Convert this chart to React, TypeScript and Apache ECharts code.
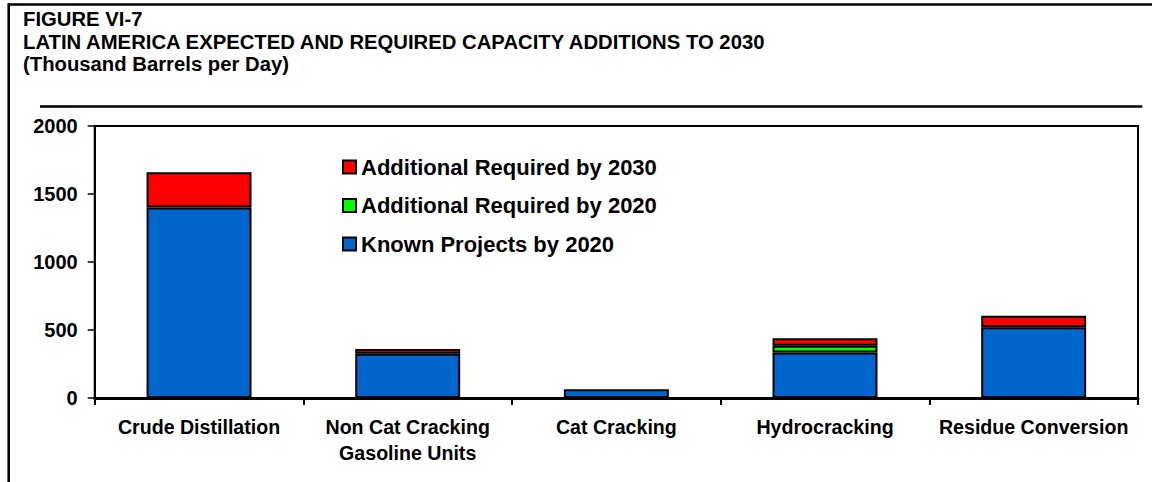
import React, { useEffect, useRef } from "react";
import * as echarts from "echarts";

const categories = [
  "Crude Distillation",
  "Non Cat Cracking\nGasoline Units",
  "Cat Cracking",
  "Hydrocracking",
  "Residue Conversion",
];
const knownProjects2020 = [1400, 325, 65, 335, 520];
const additional2020 = [0, 0, 0, 50, 0];
const additional2030 = [260, 35, 0, 55, 85];
const seriesNames = [
  "Known Projects by 2020",
  "Additional Required by 2020",
  "Additional Required by 2030",
];
const titleLines = [
  "FIGURE VI-7",
  "LATIN AMERICA EXPECTED AND REQUIRED CAPACITY ADDITIONS TO 2030",
  "(Thousand Barrels per Day)",
];

const FONT = "'Liberation Sans', Arial, Helvetica, sans-serif";

export default function App() {
  const ref = useRef<HTMLDivElement>(null);
  useEffect(() => {
    document.body.style.margin = "0";
    const chart = echarts.init(ref.current!, null, { renderer: "svg" });
    const bar = (name: string, data: number[], color: string) => ({
      name,
      type: "bar",
      stack: "total",
      // zero-height segments are left out so that they draw no border
      data: data.map((v) => (v === 0 ? "-" : v)),
      barWidth: "50.3%",
      itemStyle: { color, borderColor: "#000", borderWidth: 2 },
    });
    chart.setOption({
      animation: false,
      backgroundColor: "#fff",
      textStyle: { fontFamily: FONT },
      title: {
        text: titleLines.join("\n"),
        left: 23,
        top: 8,
        padding: 0,
        textStyle: {
          fontFamily: FONT,
          fontSize: 20.3,
          fontWeight: "bold",
          color: "#000",
          lineHeight: 22.5,
        },
      },
      legend: {
        orient: "vertical",
        left: 337,
        top: 151,
        itemWidth: 13,
        itemHeight: 13,
        itemGap: 16.5,
        icon: "rect",
        data: [seriesNames[2], seriesNames[1], seriesNames[0]],
        textStyle: {
          fontFamily: FONT,
          fontSize: 22,
          fontWeight: "bold",
          color: "#000",
          lineHeight: 21.5,
        },
      },
      grid: {
        left: 94.7,
        right: 14,
        top: 126,
        bottom: 84,
        show: true,
        borderColor: "#000",
        borderWidth: 2,
        containLabel: false,
      },
      xAxis: {
        type: "category",
        data: categories,
        axisLine: { lineStyle: { color: "#000", width: 3 } },
        axisTick: { show: true, length: 7, lineStyle: { color: "#000", width: 2 } },
        axisLabel: {
          interval: 0,
          margin: 16,
          fontFamily: FONT,
          fontSize: 19.6,
          fontWeight: "bold",
          color: "#000",
          lineHeight: 26,
        },
      },
      yAxis: {
        type: "value",
        min: 0,
        max: 2000,
        interval: 500,
        splitLine: { show: false },
        axisLine: { show: true, lineStyle: { color: "#000", width: 2 } },
        axisTick: { show: true, length: 7, lineStyle: { color: "#000", width: 1.5 } },
        axisLabel: {
          margin: 17,
          formatter: (v: number) => String(v),
          fontFamily: FONT,
          fontSize: 20,
          fontWeight: "bold",
          color: "#000",
        },
      },
      graphic: [
        { type: "line", shape: { x1: 8.7, y1: 4.5, x2: 1152, y2: 4.5 }, style: { stroke: "#000", lineWidth: 2.6 } },
        { type: "line", shape: { x1: 8.7, y1: 3.2, x2: 8.7, y2: 482 }, style: { stroke: "#000", lineWidth: 2.6 } },
        { type: "line", shape: { x1: 40, y1: 106.5, x2: 1142.3, y2: 106.5 }, style: { stroke: "#000", lineWidth: 2.6 } },
      ],
      series: [
        bar(seriesNames[0], knownProjects2020, "#0066CC"),
        bar(seriesNames[1], additional2020, "#00FF00"),
        bar(seriesNames[2], additional2030, "#FF0000"),
      ],
    });
    return () => chart.dispose();
  }, []);
  return <div ref={ref} style={{ width: 1152, height: 482 }} />;
}
